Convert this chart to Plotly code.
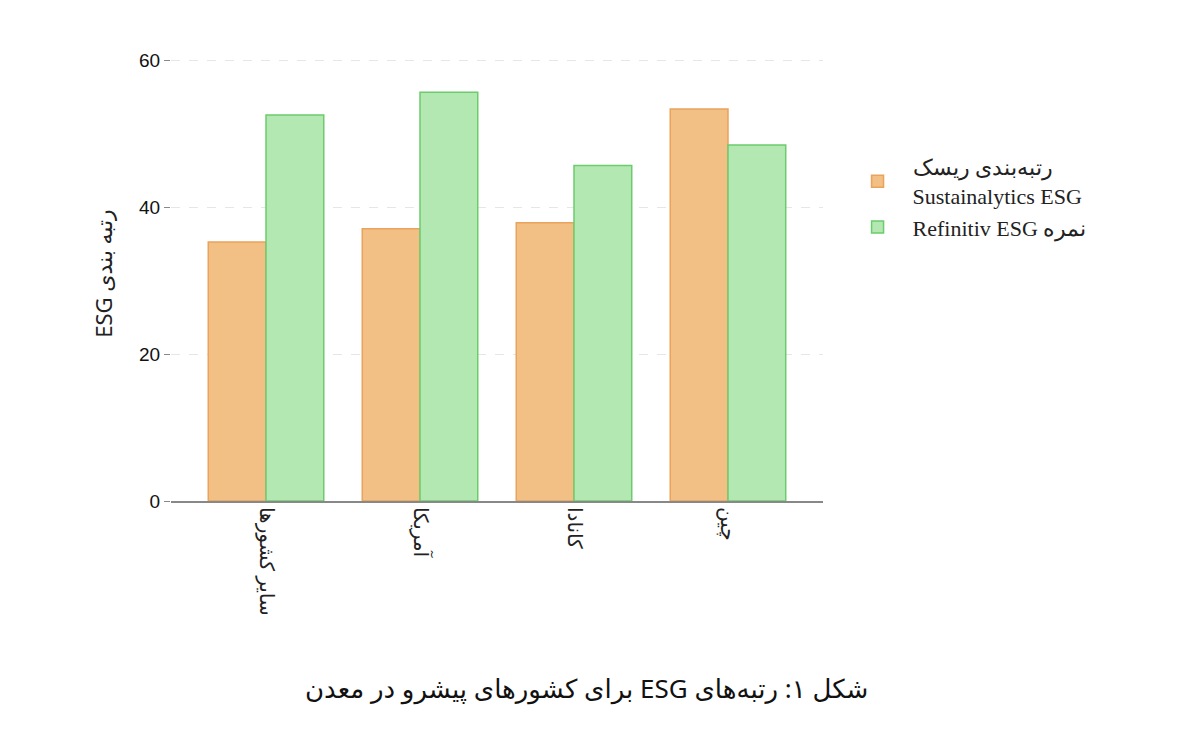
import plotly.graph_objects as go

categories = ["سایر کشورها", "آمریکا", "کانادا", "چین"]
sustainalytics = [35.3, 37.1, 37.9, 53.4]
refinitiv = [52.6, 55.7, 45.7, 48.5]
y_ticks = [0, 20, 40, 60]

RLE, PDF = "\u202b", "\u202c"

fig = go.Figure()
fig.add_trace(go.Bar(x=categories, y=sustainalytics,
                     name=RLE + "رتبه‌بندی ریسک" + PDF + "<br>Sustainalytics ESG",
                     marker=dict(color="#F2BF84", line=dict(color="#E9A35C", width=1.5))))
fig.add_trace(go.Bar(x=categories, y=refinitiv, name=RLE + "نمره Refinitiv ESG" + PDF,
                     marker=dict(color="#B3E8B3", line=dict(color="#6CCB6C", width=1.5))))

fig.update_layout(
    width=1200, height=747, barmode="group", bargap=0.25, bargroupgap=0,
    plot_bgcolor="white", paper_bgcolor="white",
    margin=dict(l=163, r=385, t=38, b=254, autoexpand=False),
    font=dict(family="Noto Sans, DejaVu Sans", color="#222"),
    xaxis=dict(range=[-0.617, 3.617], showline=True, linecolor="#888", linewidth=2,
               tickangle=90, tickfont=dict(size=20), ticks="", showgrid=False, automargin=False),
    yaxis=dict(range=[0, 62], tickvals=y_ticks, showgrid=True, gridcolor="#e6e6e6",
               griddash="dash", zeroline=False, ticks="outside", ticklen=6, tickcolor="#888",
               tickfont=dict(size=19, family="Liberation Sans, Arial", color="#111"), automargin=False,
               title=dict(text=RLE + "رتبه بندی ESG" + PDF, font=dict(size=22), standoff=20)),
    legend=dict(x=1.03, y=0.78, xanchor="left", yanchor="top", tracegroupgap=25,
                font=dict(size=22, family="Liberation Serif, Noto Sans"), itemwidth=60),
    annotations=[dict(text=RLE + "شکل ۱: رتبه‌های ESG برای کشورهای پیشرو در معدن" + PDF,
                      xref="paper", yref="paper",
                      x=(578-163)/652, y=-0.455, showarrow=False, font=dict(size=26, color="#111"))],
)
fig.write_html("out.html")
